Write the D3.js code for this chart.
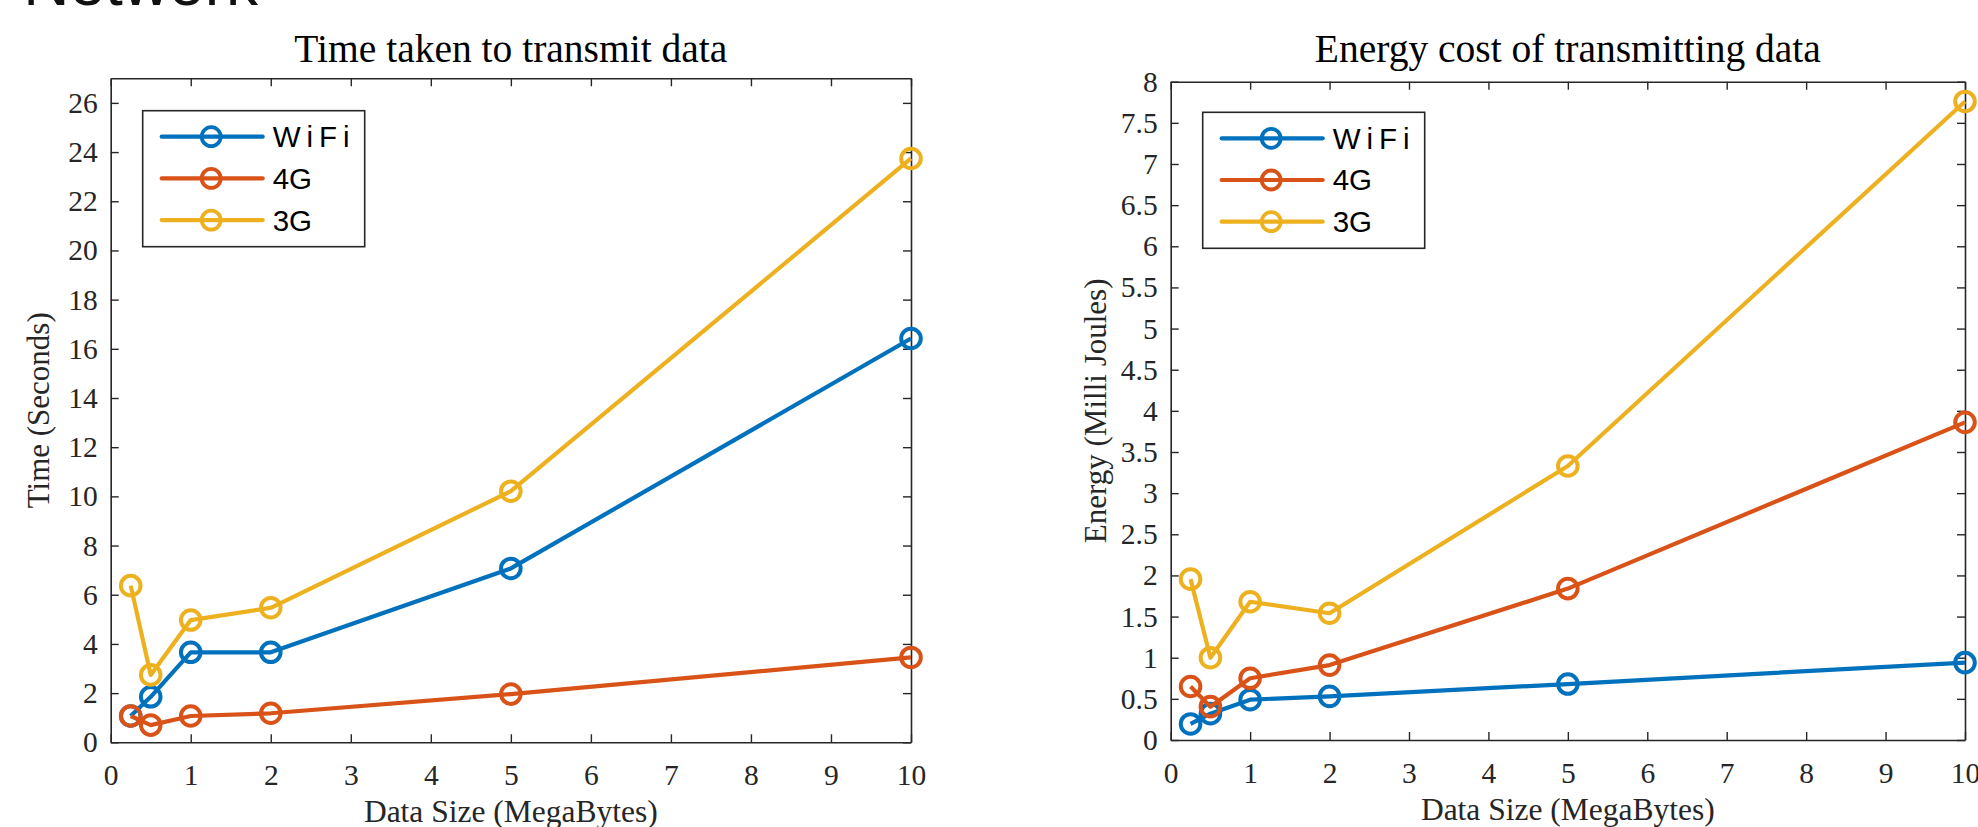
<!DOCTYPE html>
<html>
<head>
<meta charset="utf-8">
<script src="https://cdn.jsdelivr.net/npm/d3@7"></script>
<style>
  body { margin: 0; background: #fff; }
  svg { display: block; }
</style>
</head>
<body>
<div id="chart"></div>
<script>
/*** dados ***/
var sizes = [0.25, 0.5, 1, 2, 5, 10];
var seriesNames = ["WiFi", "4G", "3G"];
var seriesColors = ["#0072BD", "#D95319", "#EDB120"];

// tempo (segundos)
var timeWifi = [1.07, 1.85, 3.66, 3.66, 7.07, 16.42];
var time4G = [1.07, 0.70, 1.07, 1.18, 1.96, 3.45];
var time3G = [6.37, 2.74, 4.97, 5.47, 10.21, 23.74];

// energia (milli joules)
var energyWifi = [0.195, 0.32, 0.49, 0.53, 0.68, 0.94];
var energy4G = [0.65, 0.405, 0.75, 0.91, 1.84, 3.86];
var energy3G = [1.955, 1.00, 1.68, 1.54, 3.33, 7.76];

var sizeTicks = [0, 1, 2, 3, 4, 5, 6, 7, 8, 9, 10];
var timeTicks = [0, 2, 4, 6, 8, 10, 12, 14, 16, 18, 20, 22, 24, 26];
var energyTicks = [0, 0.5, 1, 1.5, 2, 2.5, 3, 3.5, 4, 4.5, 5, 5.5, 6, 6.5, 7, 7.5, 8];

var W = 1978, H = 827;
var axisColor = "#262626";
var serif = "'Liberation Serif', 'Times New Roman', serif";
var sans = "'Liberation Sans', Arial, sans-serif";

var svg = d3.select('#chart').append('svg')
    .attr('width', W)
    .attr('height', H);

// pedaço do cabeçalho cortado no topo
svg.append('text')
    .attr('x', 258).attr('y', 5)
    .attr('text-anchor', 'end')
    .attr('font-family', sans)
    .attr('font-size', 64)
    .attr('fill', '#111')
    .text('Network');

function drawPanel(cfg) {
    var x = d3.scaleLinear().domain([0, 10]).range([cfg.left, cfg.right]);
    var y = d3.scaleLinear().domain(cfg.yDomain).range([cfg.bottom, cfg.top]);

    var g = svg.append('g');

    // eixos (ticks para dentro, como no matlab)
    var axes = [
        { a: d3.axisBottom(x).tickValues(sizeTicks).tickFormat(d => String(d)), t: 'translate(0,' + cfg.bottom + ')', pad: 22 },
        { a: d3.axisTop(x).tickValues(sizeTicks).tickFormat(''), t: 'translate(0,' + cfg.top + ')', pad: 0 },
        { a: d3.axisLeft(y).tickValues(cfg.yTicks).tickFormat(d => String(d)), t: 'translate(' + cfg.left + ',0)', pad: 13 },
        { a: d3.axisRight(y).tickValues(cfg.yTicks).tickFormat(''), t: 'translate(' + cfg.right + ',0)', pad: 0 }
    ];
    axes.forEach(function (ax) {
        var sel = g.append('g')
            .attr('transform', ax.t)
            .call(ax.a.tickSizeInner(-8).tickSizeOuter(0).tickPadding(ax.pad));
        sel.select('.domain').attr('stroke', axisColor).attr('stroke-width', 1.6);
        sel.selectAll('.tick line').attr('stroke', axisColor).attr('stroke-width', 1.4);
        sel.selectAll('.tick text')
            .attr('fill', axisColor)
            .attr('font-family', serif)
            .attr('font-size', 29.5);
    });

    // título
    g.append('text')
        .attr('x', (cfg.left + cfg.right) / 2)
        .attr('y', 62)
        .attr('text-anchor', 'middle')
        .attr('font-family', serif)
        .attr('font-size', 39.5)
        .attr('fill', '#000')
        .text(cfg.title);

    // rótulo x
    g.append('text')
        .attr('x', (cfg.left + cfg.right) / 2)
        .attr('y', cfg.bottom + 80)
        .attr('text-anchor', 'middle')
        .attr('font-family', serif)
        .attr('font-size', 31.5)
        .attr('fill', axisColor)
        .text('Data Size (MegaBytes)');

    // rótulo y
    g.append('text')
        .attr('transform', 'translate(' + cfg.yLabelX + ',' + (cfg.top + cfg.bottom) / 2 + ') rotate(-90)')
        .attr('text-anchor', 'middle')
        .attr('font-family', serif)
        .attr('font-size', 31)
        .attr('fill', axisColor)
        .text(cfg.yLabel);

    var line = d3.line()
        .x(function (d) { return x(d[0]); })
        .y(function (d) { return y(d[1]); });

    cfg.series.forEach(function (vals, i) {
        var pts = sizes.map(function (s, k) { return [s, vals[k]]; });
        var sg = g.append('g');
        sg.append('path')
            .datum(pts)
            .attr('d', line)
            .attr('fill', 'none')
            .attr('stroke', seriesColors[i])
            .attr('stroke-width', 4.2)
            .attr('stroke-linejoin', 'round');
        sg.selectAll('circle')
            .data(pts)
            .enter()
            .append('circle')
            .attr('cx', function (d) { return x(d[0]); })
            .attr('cy', function (d) { return y(d[1]); })
            .attr('r', 9.8)
            .attr('fill', 'none')
            .attr('stroke', seriesColors[i])
            .attr('stroke-width', 4);
    });

    // legenda
    var lg = g.append('g').attr('transform', 'translate(' + cfg.legX + ',' + cfg.legY + ')');
    lg.append('rect')
        .attr('width', 222).attr('height', 136)
        .attr('fill', '#fff')
        .attr('stroke', axisColor)
        .attr('stroke-width', 1.6);
    seriesNames.forEach(function (name, i) {
        var ry = 26 + i * 41.7;
        lg.append('line')
            .attr('x1', 19).attr('x2', 120)
            .attr('y1', ry).attr('y2', ry)
            .attr('stroke', seriesColors[i])
            .attr('stroke-width', 4.2)
            .attr('stroke-linecap', 'round');
        lg.append('circle')
            .attr('cx', 68.5).attr('cy', ry).attr('r', 9.5)
            .attr('fill', 'none')
            .attr('stroke', seriesColors[i])
            .attr('stroke-width', 3.8);
        lg.append('text')
            .attr('x', 130).attr('y', ry + 10.5)
            .attr('font-family', sans)
            .attr('font-size', 29.5)
            .attr('letter-spacing', name == 'WiFi' ? 6 : 0)
            .attr('fill', '#000')
            .text(name);
    });
}

drawPanel({
    left: 110.7, right: 911, top: 78.3, bottom: 742.3,
    yDomain: [0, 27], yTicks: timeTicks,
    title: 'Time taken to transmit data',
    yLabel: 'Time (Seconds)', yLabelX: 49,
    series: [timeWifi, time4G, time3G],
    legX: 142.7, legY: 110.7
});

drawPanel({
    left: 1170.7, right: 1965, top: 81.7, bottom: 740,
    yDomain: [0, 8], yTicks: energyTicks,
    title: 'Energy cost of transmitting data',
    yLabel: 'Energy (Milli Joules)', yLabelX: 1106,
    series: [energyWifi, energy4G, energy3G],
    legX: 1202.7, legY: 112.3
});
</script>
</body>
</html>
